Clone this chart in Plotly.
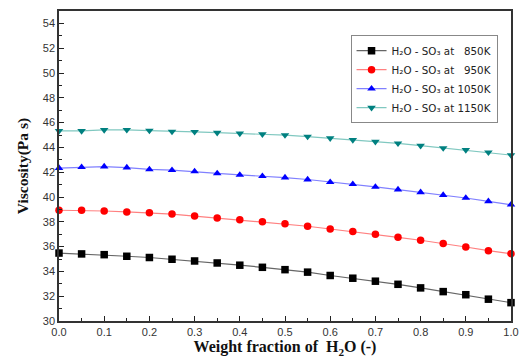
import plotly.graph_objects as go

x_frac = [0.0, 0.05, 0.1, 0.15, 0.2, 0.25, 0.3, 0.35, 0.4, 0.45, 0.5,
          0.55, 0.6, 0.65, 0.7, 0.75, 0.8, 0.85, 0.9, 0.95, 1.0]

visc_850 = [35.48, 35.41, 35.35, 35.22, 35.12, 34.98, 34.84, 34.68, 34.50, 34.33, 34.14,
            33.94, 33.67, 33.45, 33.21, 32.96, 32.67, 32.37, 32.12, 31.76, 31.48]
visc_950 = [38.93, 38.93, 38.87, 38.80, 38.72, 38.62, 38.46, 38.30, 38.16, 38.00, 37.84,
            37.64, 37.42, 37.21, 36.99, 36.75, 36.51, 36.26, 35.97, 35.67, 35.43]
visc_1050 = [42.33, 42.40, 42.45, 42.37, 42.22, 42.16, 42.06, 41.90, 41.78, 41.68, 41.57,
             41.41, 41.19, 41.03, 40.81, 40.60, 40.38, 40.16, 39.92, 39.65, 39.38]
visc_1150 = [45.33, 45.33, 45.41, 45.42, 45.36, 45.28, 45.26, 45.19, 45.13, 45.07, 44.99,
             44.87, 44.74, 44.60, 44.46, 44.33, 44.14, 43.95, 43.79, 43.60, 43.38]

series_names = ["H₂O - SO₃ at\u00a0\u00a0 850K",
                "H₂O - SO₃ at\u00a0\u00a0 950K",
                "H₂O - SO₃ at 1050K",
                "H₂O - SO₃ at 1150K"]

y_ticks = [30, 32, 34, 36, 38, 40, 42, 44, 46, 48, 50, 52, 54]
x_ticks = [0.0, 0.1, 0.2, 0.3, 0.4, 0.5, 0.6, 0.7, 0.8, 0.9, 1.0]

styles = [
    dict(mc="#000000", lc="#666666", sym="square"),
    dict(mc="#ff0000", lc="#ff8080", sym="circle"),
    dict(mc="#0000ff", lc="#8080ff", sym="triangle-up"),
    dict(mc="#008080", lc="#80c8c0", sym="triangle-down"),
]

fig = go.Figure()
for name, ys, st in zip(series_names, [visc_850, visc_950, visc_1050, visc_1150], styles):
    fig.add_trace(go.Scatter(
        x=x_frac, y=ys, name=name, mode="lines+markers",
        line=dict(color=st["lc"], width=1.2),
        marker=dict(color=st["mc"], symbol=st["sym"], size=7.5),
        cliponaxis=False,
    ))

tickfont = dict(family="Liberation Sans, Arial, sans-serif", size=11, color="#333333")

fig.update_layout(
    width=528, height=362,
    margin=dict(l=59, r=9, t=11, b=41),
    paper_bgcolor="white", plot_bgcolor="white",
    showlegend=True,
    legend=dict(
        x=0.645, y=0.922, xanchor="left", yanchor="top",
        bordercolor="#888888", borderwidth=1, bgcolor="white",
        font=dict(family="DejaVu Sans, Liberation Sans, sans-serif", size=10.3, color="#222222"),
        tracegroupgap=0, itemwidth=30,
    ),
)

fig.update_xaxes(
    range=[0, 1], tickvals=x_ticks, ticktext=["%.1f" % v for v in x_ticks],
    ticks="inside", ticklen=5, tickcolor="#222222", tickwidth=1,
    minor=dict(ticks="inside", ticklen=3, dtick=0.05, tickcolor="#222222"),
    showgrid=False, zeroline=False,
    showline=True, linecolor="#333333", linewidth=1.5, mirror=True,
    tickfont=tickfont,
    title=dict(text="<b>Weight fraction of  H<sub>2</sub>O (-)</b>",
               font=dict(family="Liberation Serif, Times New Roman, serif", size=16, color="#111111"),
               standoff=4),
)
fig.update_yaxes(
    range=[30, 55], tickvals=y_ticks,
    ticks="inside", ticklen=5, tickcolor="#222222", tickwidth=1,
    minor=dict(ticks="inside", ticklen=3, dtick=1, tickcolor="#222222"),
    showgrid=False, zeroline=False,
    showline=True, linecolor="#333333", linewidth=1.5, mirror=True,
    tickfont=tickfont,
    title=dict(text="<b>Viscosity(Pa s)</b>",
               font=dict(family="Liberation Serif, Times New Roman, serif", size=15.5, color="#111111"),
               standoff=10),
)

fig.write_html("out.html", config={"displayModeBar": False},
               post_script="document.body.style.margin='0';document.body.style.overflow='hidden';")
